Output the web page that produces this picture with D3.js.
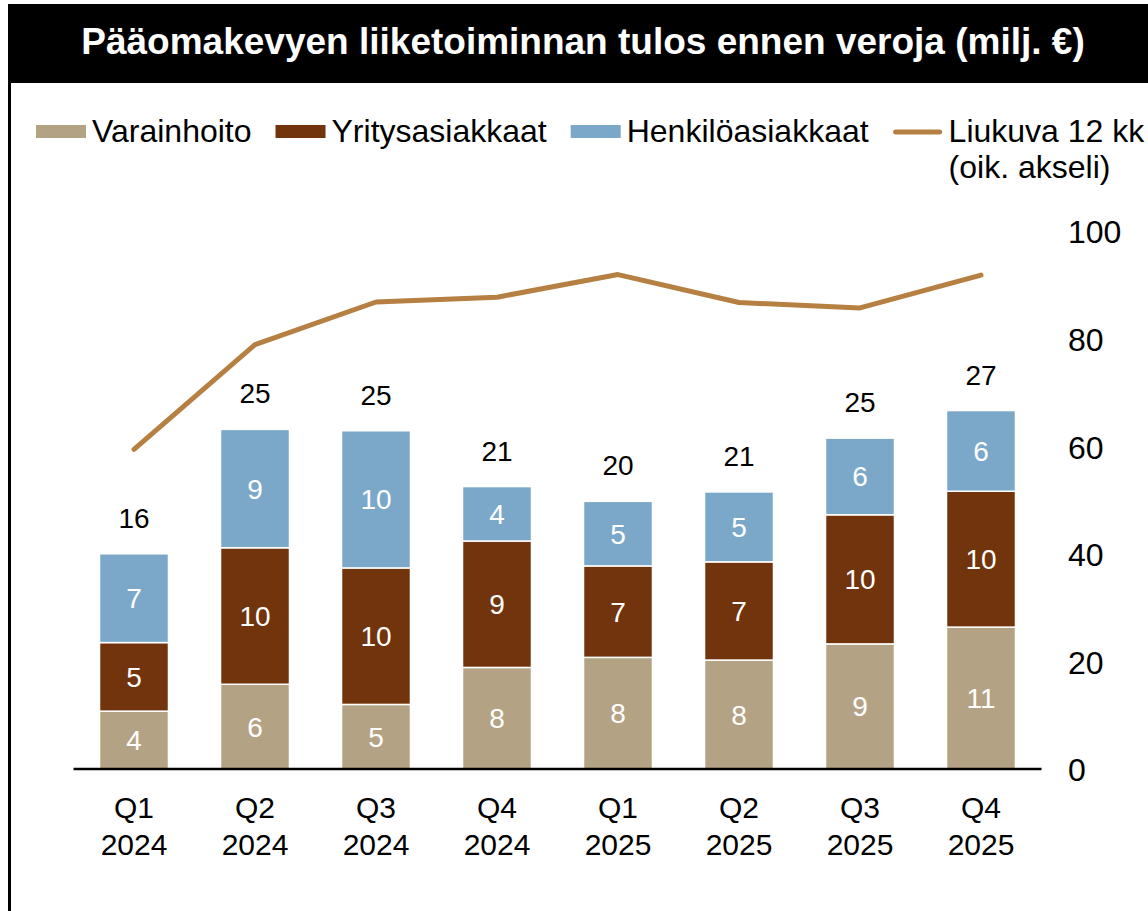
<!DOCTYPE html>
<html>
<head>
<meta charset="utf-8">
<script src="https://cdn.jsdelivr.net/npm/d3@7"></script>
<style>
  body { margin: 0; background: #fff; }
  text { font-family: "Liberation Sans", Arial, sans-serif; }
</style>
</head>
<body>
<div id="chart"></div>
<script>
// Data
var quarters = ["Q1", "Q2", "Q3", "Q4", "Q1", "Q2", "Q3", "Q4"];
var years = ["2024", "2024", "2024", "2024", "2025", "2025", "2025", "2025"];
var varainhoito = [4.3, 6.3, 4.8, 7.55, 8.3, 8.1, 9.3, 10.55];
var yritysasiakkaat = [5.1, 10.15, 10.15, 9.4, 6.8, 7.3, 9.6, 10.1];
var henkiloasiakkaat = [6.6, 8.8, 10.2, 4.05, 4.8, 5.2, 5.7, 6.0];
var liukuva = [59.4, 78.9, 86.8, 87.7, 91.9, 86.7, 85.7, 91.8];
var seriesNames = ["Varainhoito", "Yritysasiakkaat", "Henkilöasiakkaat"];
var rightTicks = [0, 20, 40, 60, 80, 100];

var colors = ["#b3a384", "#72340c", "#7ba8c8"];
var lineColor = "#b58041";

// Chart area
var svgWidth = 1148;
var svgHeight = 911;

var svg = d3.select("#chart")
  .append("svg")
  .attr("width", svgWidth)
  .attr("height", svgHeight);

var rows = quarters.map(function(q, i) {
  return {
    key: q + " " + years[i],
    q: q,
    year: years[i],
    Varainhoito: varainhoito[i],
    Yritysasiakkaat: yritysasiakkaat[i],
    "Henkilöasiakkaat": henkiloasiakkaat[i],
    total: varainhoito[i] + yritysasiakkaat[i] + henkiloasiakkaat[i],
    line: liukuva[i]
  };
});

// Frame and title
svg.append("line")
  .attr("x1", 9.5).attr("x2", 9.5)
  .attr("y1", 4).attr("y2", svgHeight)
  .attr("stroke", "#000")
  .attr("stroke-width", 3);

svg.append("rect")
  .attr("x", 8).attr("y", 4)
  .attr("width", svgWidth - 8).attr("height", 79)
  .attr("fill", "#000");

svg.append("text")
  .attr("x", 583).attr("y", 54)
  .attr("text-anchor", "middle")
  .attr("fill", "#fff")
  .attr("font-weight", "bold")
  .attr("font-size", "37px")
  .text("Pääomakevyen liiketoiminnan tulos ennen veroja (milj. €)");

// Scales
var x = d3.scaleBand()
  .domain(rows.map(d => d.key))
  .range([73.5, 1041.5])
  .paddingInner(0.43)
  .paddingOuter(0.215);

var yLeft = d3.scaleLinear()
  .domain([0, 40])
  .range([769, 231]);

var yRight = d3.scaleLinear()
  .domain([0, 100])
  .range([769, 231]);

// Stacked bars
var stack = d3.stack().keys(seriesNames);
var stacked = stack(rows);

var layers = svg.append("g").selectAll("g")
  .data(stacked)
  .enter()
  .append("g")
  .attr("fill", (d, i) => colors[i]);

layers.selectAll("rect")
  .data(d => d)
  .enter()
  .append("rect")
  .attr("x", d => x(d.data.key))
  .attr("y", d => yLeft(d[1]))
  .attr("width", x.bandwidth())
  .attr("height", d => yLeft(d[0]) - yLeft(d[1]))
  .attr("stroke", "#fff")
  .attr("stroke-width", 1.5);

layers.selectAll("text")
  .data(d => d)
  .enter()
  .append("text")
  .attr("x", d => x(d.data.key) + x.bandwidth() / 2)
  .attr("y", d => (yLeft(d[0]) + yLeft(d[1])) / 2 + 10)
  .attr("text-anchor", "middle")
  .attr("fill", "#fff")
  .attr("font-size", "28px")
  .text(d => d3.format(".0f")(d[1] - d[0]));

// Totals above bars
svg.append("g").selectAll("text")
  .data(rows)
  .enter()
  .append("text")
  .attr("x", d => x(d.key) + x.bandwidth() / 2)
  .attr("y", d => yLeft(d.total) - 26)
  .attr("text-anchor", "middle")
  .attr("fill", "#000")
  .attr("font-size", "28px")
  .text(d => d3.format(".0f")(d.total));

// Axis line
svg.append("line")
  .attr("x1", x.range()[0]).attr("x2", x.range()[1])
  .attr("y1", yLeft(0)).attr("y2", yLeft(0))
  .attr("stroke", "#000")
  .attr("stroke-width", 2.5);

// Category labels (two lines)
var xLabels = svg.append("g").selectAll("text")
  .data(rows)
  .enter()
  .append("text")
  .attr("text-anchor", "middle")
  .attr("font-size", "30px")
  .attr("fill", "#000");

xLabels.append("tspan")
  .attr("x", d => x(d.key) + x.bandwidth() / 2)
  .attr("y", 818)
  .text(d => d.q);

xLabels.append("tspan")
  .attr("x", d => x(d.key) + x.bandwidth() / 2)
  .attr("y", 855)
  .text(d => d.year);

// Right axis
var rightAxis = d3.axisRight(yRight)
  .tickValues(rightTicks)
  .tickSize(0)
  .tickPadding(0);

var rAxis = svg.append("g")
  .attr("transform", "translate(1068, 0)")
  .call(rightAxis);

rAxis.select(".domain").remove();
rAxis.selectAll("text")
  .attr("font-size", "32px")
  .attr("font-family", "Liberation Sans, Arial, sans-serif")
  .attr("fill", "#000")
  .attr("dy", "0.37em");

// Moving 12 month line
var line = d3.line()
  .x(d => x(d.key) + x.bandwidth() / 2)
  .y(d => yRight(d.line));

svg.append("path")
  .datum(rows)
  .attr("d", line)
  .attr("fill", "none")
  .attr("stroke", lineColor)
  .attr("stroke-width", 5)
  .attr("stroke-linejoin", "round")
  .attr("stroke-linecap", "round");

// Legend
var legend = svg.append("g");
var legendItems = seriesNames.concat(["Liukuva 12 kk"]);
var lx = 36;
legendItems.forEach(function(name, i) {
  if (i < 3) {
    legend.append("rect")
      .attr("x", lx).attr("y", 125)
      .attr("width", 50).attr("height", 13)
      .attr("fill", colors[i]);
  } else {
    legend.append("line")
      .attr("x1", lx + 3).attr("x2", lx + 47)
      .attr("y1", 132).attr("y2", 132)
      .attr("stroke", lineColor)
      .attr("stroke-width", 5)
      .attr("stroke-linecap", "round");
  }
  var t = legend.append("text")
    .attr("x", lx + 56).attr("y", 142)
    .attr("font-size", "32px")
    .attr("fill", "#000")
    .text(name);
  if (i === 3) {
    legend.append("text")
      .attr("x", lx + 56).attr("y", 178)
      .attr("font-size", "32px")
      .attr("fill", "#000")
      .text("(oik. akseli)");
  }
  lx = lx + 56 + t.node().getComputedTextLength() + 24;
});
</script>
</body>
</html>
